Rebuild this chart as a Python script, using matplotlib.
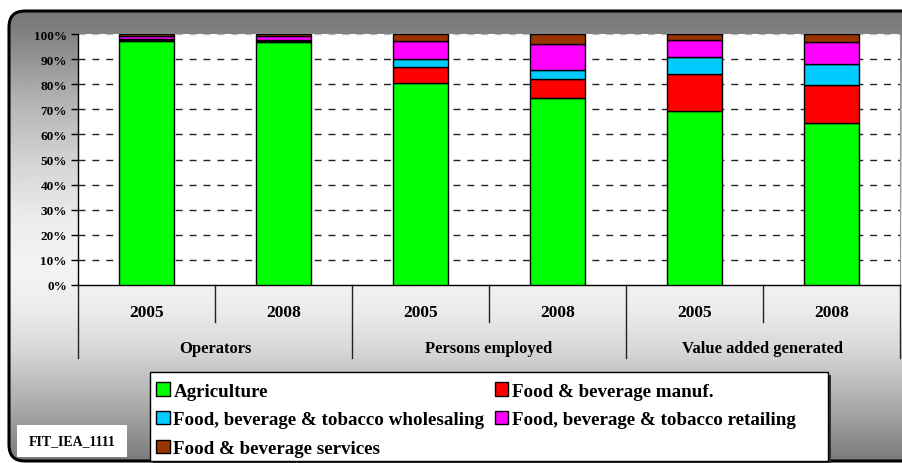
import numpy as np
import matplotlib
matplotlib.use("Agg")
import matplotlib.pyplot as plt
from matplotlib.patches import FancyBboxPatch, Rectangle, Patch
from matplotlib.colors import LinearSegmentedColormap

# ---------------- data ----------------
years = ["2005", "2008", "2005", "2008", "2005", "2008"]
groups = ["Operators", "Persons employed", "Value added generated"]
series_names = ["Agriculture", "Food & beverage manuf.",
                "Food, beverage & tobacco wholesaling",
                "Food, beverage & tobacco retailing",
                "Food & beverage services"]
agriculture = [97.2, 96.8, 80.6, 74.5, 69.3, 64.4]
manuf = [0.6, 0.6, 6.3, 7.4, 14.9, 15.3]
wholesaling = [0.3, 0.3, 3.0, 3.9, 6.5, 8.3]
retailing = [1.2, 1.6, 7.4, 10.2, 6.9, 8.7]
services = [0.7, 0.7, 2.7, 4.0, 2.4, 3.3]
y_ticks = [0, 10, 20, 30, 40, 50, 60, 70, 80, 90, 100]
chart_id = "FIT_IEA_1111"

colors = ["#00FF00", "#FF0000", "#00CCFF", "#FF00FF", "#993300"]
FONT = "Liberation Serif"

W, H = 903, 464
fig = plt.figure(figsize=(W / 100, H / 100), dpi=100)
fig.patch.set_facecolor("white")

# ---------------- background with gradient ----------------
bg = fig.add_axes([0, 0, 1, 1], zorder=-5)
bg.set_xlim(0, W)
bg.set_ylim(H, 0)
bg.axis("off")
stops_px = [12, 35, 100, 160, 220, 270, 310, 350, 400, 462]
stops_val = [118, 130, 178, 210, 236, 243, 236, 216, 176, 122]
ys = np.arange(0, H)
vals = np.interp(ys, stops_px, stops_val) / 255.0
grad = np.repeat(vals[:, None], 10, axis=1)
cmap = LinearSegmentedColormap.from_list("g", ["black", "white"])
im = bg.imshow(grad, cmap=cmap, vmin=0, vmax=1, extent=(0, W, H, 0),
               aspect="auto", interpolation="bilinear")
frame = FancyBboxPatch((9, 12), 910, 450,
                       boxstyle="round,pad=0,rounding_size=16",
                       facecolor="none", edgecolor="black", lw=2.2,
                       transform=bg.transData)
bg.add_patch(frame)
im.set_clip_path(frame)

# FIT id box
bg.add_patch(Rectangle((17, 426), 110, 32, facecolor="white",
                       edgecolor="none", transform=bg.transData))
bg.text(72, 442, chart_id, ha="center", va="center", fontsize=10,
        fontweight="bold", family=FONT)

# legend box with shadow
bg.add_patch(Rectangle((153, 376), 678, 89, facecolor="#333333",
                       edgecolor="none", transform=bg.transData))
bg.add_patch(Rectangle((150, 373), 678, 89, facecolor="white",
                       edgecolor="black", lw=1.0, transform=bg.transData))

# ---------------- main axes ----------------
left, right, top, bottom = 78, 900, 35, 286
ax = fig.add_axes([left / W, 1 - bottom / H, (right - left) / W,
                   (bottom - top) / H])
ax.set_facecolor("white")

x = np.arange(len(years))
bw = 0.4
series = [agriculture, manuf, wholesaling, retailing, services]
base = np.zeros(len(years))
handles = []
for vals_s, c, name in zip(series, colors, series_names):
    ax.bar(x, vals_s, bw, bottom=base, color=c, edgecolor="black",
           linewidth=1.0, zorder=3)
    base = base + np.array(vals_s)
    handles.append(Patch(facecolor=c, edgecolor="black", linewidth=1.0,
                         label=name))

ax.set_xlim(-0.5, len(years) - 0.5)
ax.set_ylim(0, 100)
ax.set_yticks(y_ticks)
ax.set_yticklabels([f"{v}%" for v in y_ticks], fontsize=9.5,
                   fontweight="bold", family=FONT)
ax.tick_params(axis="y", length=5, width=1, direction="out", pad=3)
ax.set_xticks([])
for yv in y_ticks[1:-1]:
    ax.axhline(yv, color="#222222", lw=1.0, ls=(0, (5, 5)), zorder=1)
ax.axhline(100, color="#bbbbbb", lw=1.0, ls=(0, (5, 5)), zorder=1)
for s in ["top", "right"]:
    ax.spines[s].set_visible(False)
ax.spines["left"].set_linewidth(1.0)
ax.spines["bottom"].set_linewidth(1.0)
ax.plot([len(years) - 0.5] * 2, [0, 100], color="#999999", lw=0.8,
        zorder=2, clip_on=False)

# category axis (two levels)
tr = ax.get_xaxis_transform()
ph = bottom - top
y_year_end = -(323 - bottom) / ph
y_group_end = -(359 - bottom) / ph
for k in range(len(years) + 1):
    xe = k - 0.5
    yend = y_group_end if k % 2 == 0 else y_year_end
    ax.plot([xe, xe], [0, yend], color="#222222", lw=1.0, transform=tr,
            clip_on=False)
for i, yr in enumerate(years):
    ax.text(i, -(313 - bottom) / ph, yr, transform=tr, ha="center",
            va="center", fontsize=12.5, fontweight="bold", family=FONT)
for g, name in enumerate(groups):
    ax.text(2 * g + 0.5, -(349 - bottom) / ph, name, transform=tr,
            ha="center", va="center", fontsize=12, fontweight="bold",
            family=FONT)

# legend (row-major order: Agr, Manuf / Whole, Retail / Services)
order = [0, 2, 4, 1, 3]
leg = fig.legend([handles[i] for i in order], [series_names[i] for i in order],
                 ncol=2, loc="upper left",
                 bbox_to_anchor=(141 / W, 1 - 368 / H),
                 frameon=False, handlelength=0.7, handleheight=0.7,
                 handletextpad=0.2, columnspacing=0.55, labelspacing=0.6,
                 borderpad=0.3,
                 prop={"family": FONT, "weight": "bold", "size": 13.7})

fig.savefig("out.png", dpi=100, facecolor="white")
